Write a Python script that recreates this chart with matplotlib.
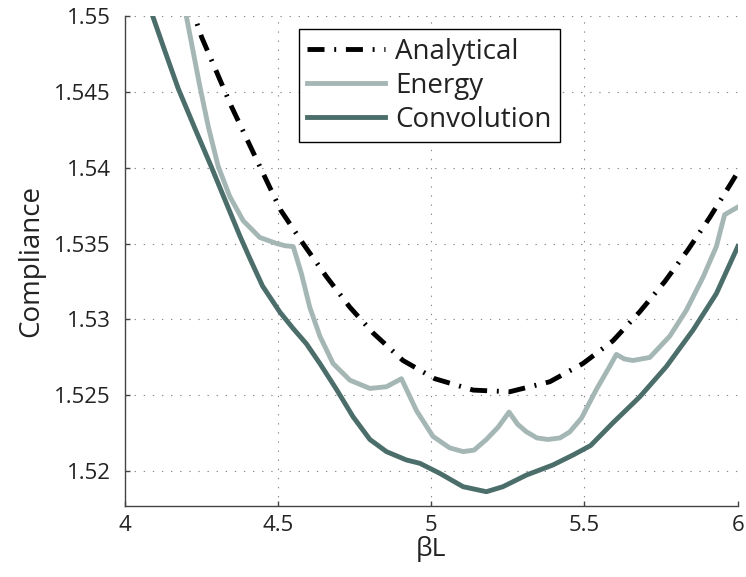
import matplotlib
matplotlib.use('Agg')
import matplotlib.pyplot as plt

plt.rcParams['font.family'] = ['Open Sans', 'DejaVu Sans']

# Analytical
x_ana = [4.20, 4.229, 4.251, 4.300, 4.349, 4.403, 4.457, 4.509, 4.582, 4.659, 4.735,
         4.811, 4.908, 5.012, 5.137, 5.256, 5.387, 5.495, 5.593, 5.680, 5.762, 5.838,
         5.908, 5.979, 6.0]
y_ana = [1.5513, 1.5499, 1.5486, 1.5463, 1.5440, 1.5417, 1.5394, 1.5372, 1.5350, 1.5328, 1.5308,
         1.5291, 1.5273, 1.5261, 1.52535, 1.52524, 1.5259, 1.5271, 1.5286, 1.5305, 1.5325, 1.5346,
         1.5367, 1.5390, 1.5397]

# Energy
x_en = [4.19, 4.202, 4.224, 4.245, 4.273, 4.305, 4.343, 4.387, 4.441, 4.496, 4.525,
        4.550, 4.577, 4.604, 4.637, 4.680, 4.735, 4.800, 4.854, 4.903, 4.952, 5.006,
        5.060, 5.104, 5.140, 5.180, 5.218, 5.254, 5.282, 5.311, 5.345, 5.381, 5.420,
        5.452, 5.490, 5.539, 5.582, 5.604, 5.630, 5.658, 5.713, 5.778, 5.832, 5.887,
        5.930, 5.957, 6.0]
y_en = [1.5512, 1.5499, 1.5476, 1.5454, 1.5427, 1.5401, 1.5381, 1.5365, 1.5354, 1.5350, 1.53485,
        1.5348, 1.5330, 1.5308, 1.5289, 1.5271, 1.5260, 1.52546, 1.52557, 1.5261, 1.5240, 1.5223,
        1.52155, 1.5213, 1.5214, 1.5221, 1.5229, 1.5239, 1.5231, 1.5226, 1.5222, 1.5221, 1.5222,
        1.5226, 1.5235, 1.5254, 1.5269, 1.5277, 1.5274, 1.5273, 1.5275, 1.5289, 1.5306, 1.5328,
        1.5348, 1.5369, 1.5374]

# Convolution
x_cv = [4.08, 4.093, 4.131, 4.175, 4.229, 4.284, 4.333, 4.376, 4.409, 4.450, 4.506,
        4.550, 4.593, 4.637, 4.691, 4.745, 4.800, 4.854, 4.919, 4.963, 5.028, 5.104,
        5.180, 5.234, 5.311, 5.397, 5.463, 5.520, 5.593, 5.680, 5.767, 5.854, 5.930, 6.0]
y_cv = [1.5506, 1.5499, 1.5477, 1.5452, 1.5426, 1.5400, 1.5376, 1.5355, 1.5340, 1.5322, 1.5305,
        1.5294, 1.5284, 1.5271, 1.5254, 1.5236, 1.5221, 1.5213, 1.52075, 1.52053, 1.51987, 1.51899,
        1.51866, 1.51899, 1.51976, 1.52042, 1.52108, 1.5217, 1.5232, 1.5249, 1.5269, 1.5293, 1.5317, 1.5348]

xticks = [4, 4.5, 5, 5.5, 6]
xtick_labels = ['4', '4.5', '5', '5.5', '6']
yticks = [1.52, 1.525, 1.53, 1.535, 1.54, 1.545, 1.55]
ytick_labels = ['1.52', '1.525', '1.53', '1.535', '1.54', '1.545', '1.55']

fig = plt.figure(figsize=(7.46, 5.77), dpi=100)
ax = fig.add_axes([0.167, 0.1236, 0.822, 0.8492])

ax.plot(x_ana, y_ana, color='black', lw=3.5, dashes=(3.5, 2.0, 0.4, 2.0),
        dash_capstyle='butt', label='Analytical', zorder=3)
ax.plot(x_en, y_en, color='#a5b7b5', lw=3.5, solid_joinstyle='round', label='Energy', zorder=2)
ax.plot(x_cv, y_cv, color='#4b6e6a', lw=3.5, solid_joinstyle='round', label='Convolution', zorder=2)

ax.set_xlim(4, 6)
ax.set_ylim(1.51774, 1.55)
ax.set_xticks(xticks)
ax.set_xticklabels(xtick_labels)
ax.set_yticks(yticks)
ax.set_yticklabels(ytick_labels)

ax.grid(True, color='#888888', lw=0.8, linestyle=(0, (1.2, 7)))
ax.spines['top'].set_visible(False)
ax.spines['right'].set_visible(False)
for s in ['left', 'bottom']:
    ax.spines[s].set_color('#444444')
    ax.spines[s].set_linewidth(1.0)
ax.tick_params(direction='in', length=3.5, width=1, color='#444444',
               labelsize=16, labelcolor='#222222')
ax.tick_params(axis='y', pad=10)
ax.tick_params(axis='x', pad=7)

ax.set_xlabel('βL', fontsize=19, color='#222222', labelpad=0)
ax.set_ylabel('Compliance', fontsize=20, color='#222222', labelpad=6)

leg = ax.legend(loc='upper left', bbox_to_anchor=(0.284, 0.972), fontsize=20,
                handlelength=2.8, handletextpad=0.36, borderpad=0.3, labelspacing=0.22,
                borderaxespad=0, fancybox=False, framealpha=1, edgecolor='black')
leg.get_frame().set_linewidth(1.0)
for t in leg.get_texts():
    t.set_color('#222222')

fig.savefig('out.png', dpi=100)
